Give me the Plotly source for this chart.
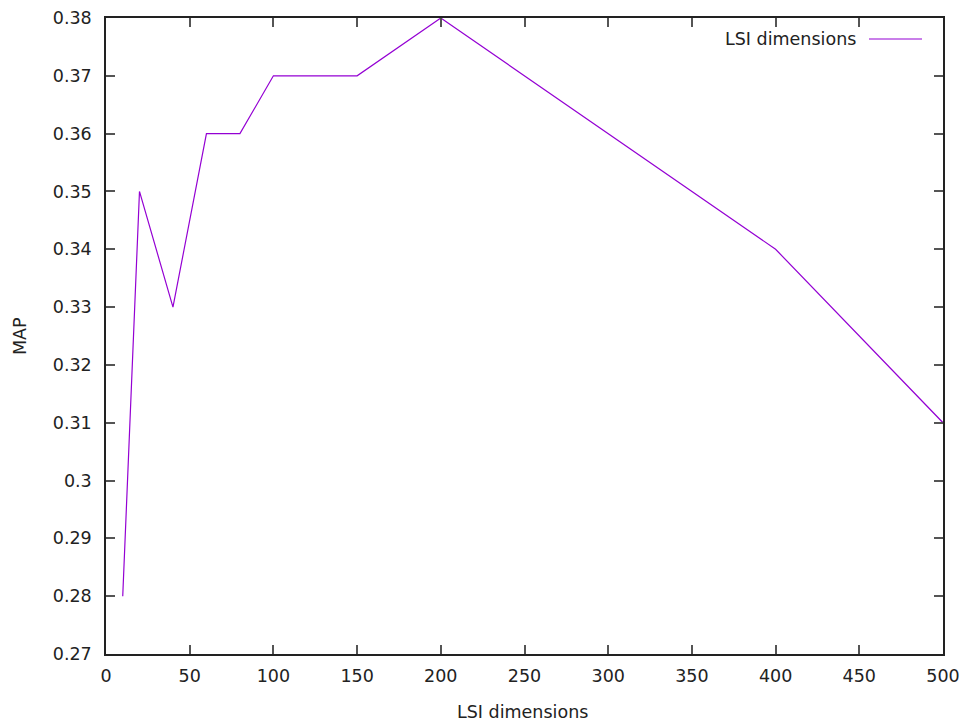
import plotly.graph_objects as go

lsi_dims = [10, 20, 40, 60, 80, 100, 150, 200, 400, 500]
map_values = [0.28, 0.35, 0.33, 0.36, 0.36, 0.37, 0.37, 0.38, 0.34, 0.31]
series_name = "LSI dimensions"
x_title = "LSI dimensions"
y_title = "MAP"

LINE_COLOR = "#9400d3"
FONT = "DejaVu Sans"
FS = 17.5
TXT = "#222222"

# plot area in page pixels (page has an 8px body margin)
PL, PR, PT, PB = 106, 943, 18, 654
PW, PH = PR - PL, PB - PT

fig = go.Figure()
fig.add_trace(go.Scatter(x=lsi_dims, y=map_values, mode="lines",
                         line=dict(color=LINE_COLOR, width=1.2),
                         name=series_name, showlegend=False))

axis_common = dict(showline=True, linecolor="#222222", linewidth=1.5, mirror="allticks",
                   ticks="inside", ticklen=9, tickwidth=1.5, tickcolor="#555555",
                   showgrid=False, zeroline=False, automargin=False,
                   tickfont=dict(family=FONT, size=FS, color=TXT))

fig.update_xaxes(range=[0, 500], tick0=0, dtick=50, ticklabelstandoff=5, **axis_common)
fig.update_yaxes(range=[0.27, 0.38], tick0=0.27, dtick=0.01, tickformat="~g",
                 ticklabelstandoff=9, **axis_common)

def px(x):
    return (x - PL) / PW

def py(y):
    return (PB - y) / PH

fig.add_annotation(xref="paper", yref="paper", x=px(522), y=py(712), xanchor="center",
                   yanchor="middle", text=x_title, showarrow=False,
                   font=dict(family=FONT, size=FS, color=TXT))
fig.add_annotation(xref="paper", yref="paper", x=px(20), y=py(336), xanchor="center",
                   yanchor="middle", text=y_title, textangle=-90, showarrow=False,
                   font=dict(family=FONT, size=FS, color=TXT))

# gnuplot-style key: text on the left, sample line on the right
fig.add_annotation(xref="paper", yref="paper", x=px(858), y=py(39),
                   xanchor="right", yanchor="middle", text=series_name, showarrow=False,
                   font=dict(family=FONT, size=FS, color=TXT))
fig.add_shape(type="line", xref="paper", yref="paper",
              x0=px(869), x1=px(922), y0=py(39), y1=py(39),
              line=dict(color=LINE_COLOR, width=1.2))

fig.update_layout(width=961, height=716, paper_bgcolor="white", plot_bgcolor="white",
                  margin=dict(l=PL - 8, r=961 - (PR - 8), t=PT - 8, b=716 - (PB - 8)),
                  showlegend=False)

fig.write_html("out.html")
